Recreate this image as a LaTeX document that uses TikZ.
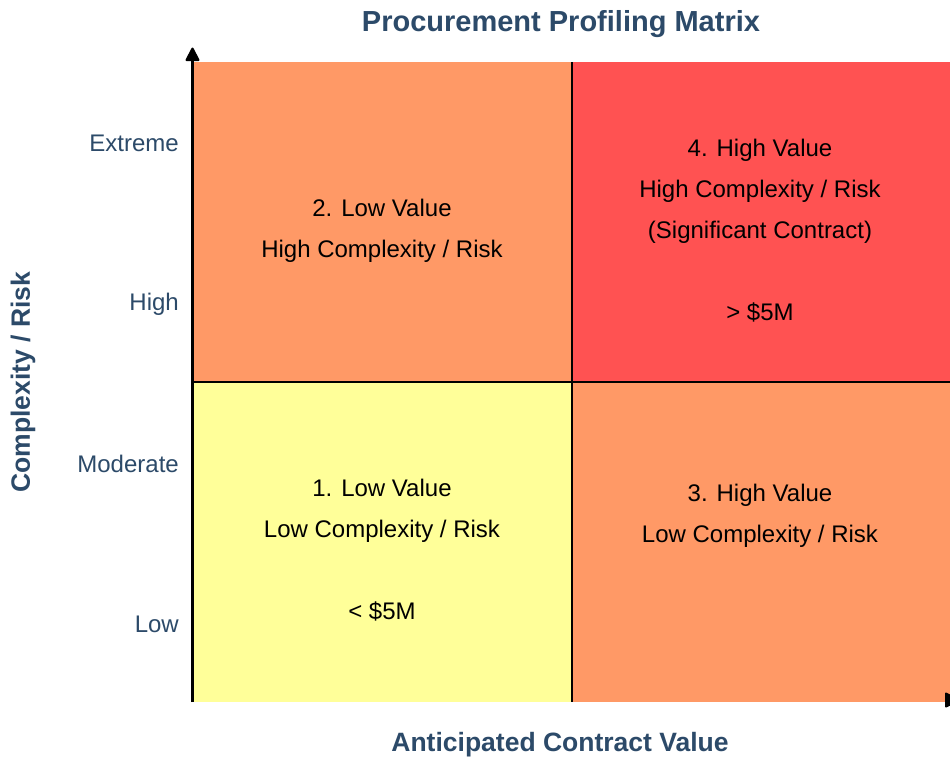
\documentclass[tikz,border=0pt]{standalone}
\usepackage{fontspec}
\setmainfont{Liberation Sans}
\definecolor{titleblue}{RGB}{44,74,105}
\definecolor{qorange}{RGB}{255,153,102}
\definecolor{qred}{RGB}{255,82,82}
\definecolor{qyellow}{RGB}{255,255,153}
\tikzset{
  quad/.style={draw=none, inner sep=0pt, outer sep=0pt, minimum width=378pt, minimum height=320pt, anchor=north west},
  qtext/.style={align=center, font=\fontsize{24}{41}\selectfont, text=black, inner sep=0pt},
  tick/.style={anchor=east, font=\fontsize{24}{28}\selectfont, text=titleblue, inner sep=0pt},
  axlabel/.style={font=\fontsize{26.5}{30}\selectfont\bfseries, text=titleblue, inner sep=0pt},
  axisline/.style={line width=3pt},
  tiphead/.style={fill=black, draw=black, line width=2pt, line join=round},
  midline/.style={line width=2.3pt, black}
}
\begin{document}
\begin{tikzpicture}[x=1pt,y=-1pt]
\useasboundingbox[fill=white] (0,0) rectangle (950,758);
% horizontal axis (line under the quadrants)
\coordinate (xo) at (193,700);
\coordinate (xb) at (946,700);
\coordinate (xe) at (959,700);
\draw[axisline] (xo) -- (xb);
% quadrants
\node[quad, fill=qorange] (q2) at (194,62) {};
\node[quad, fill=qred] (q4) at (572,62) {};
\node[quad, fill=qyellow] (q1) at (194,382) {};
\node[quad, fill=qorange] (q3) at (572,382) {};
% arrow head of horizontal axis on top
\path[tiphead] (xe) -- ++(-13,-6.5) -- ++(0,13) -- cycle;
% mid lines
\draw[midline] (q2.north east) -- (q3.south west);
\draw[midline] (q1.north west) -- (q3.north east);
% vertical axis
\coordinate (yo) at (192.5,702);
\coordinate (yb) at (192.5,58);
\coordinate (ye) at (192.5,48.5);
\draw[axisline] (yo) -- (yb);
\path[tiphead] (ye) -- ++(-6,11.5) -- ++(12,0) -- cycle;
% title and axis labels
\node[axlabel, font=\fontsize{29}{33}\selectfont\bfseries] (title) at (561,24.5) {Procurement Profiling Matrix};
\node[axlabel] (xlab) at (560,744.5) {Anticipated Contract Value};
\node[axlabel, rotate=90] (ylab) at (23,382) {Complexity / Risk};
% ticks
\node[tick] (t1) at (179,143.5) {Extreme};
\node[tick] (t2) at (179,304.5) {High};
\node[tick] (t3) at (179,464) {Moderate};
\node[tick] (t4) at (179,624) {Low};
% quadrant texts
\node[qtext] (x2) at (382,231) {2. Low Value\\High Complexity / Risk};
\node[qtext] (x4) at (760,230.5) {4. High Value\\High Complexity / Risk\\(Significant Contract)\\[41pt]> \$5M};
\node[qtext] (x1) at (382,550.5) {1. Low Value\\Low Complexity / Risk\\[41pt]< \$5M};
\node[qtext] (x3) at (760,515.5) {3. High Value\\Low Complexity / Risk};
\end{tikzpicture}
\end{document}
